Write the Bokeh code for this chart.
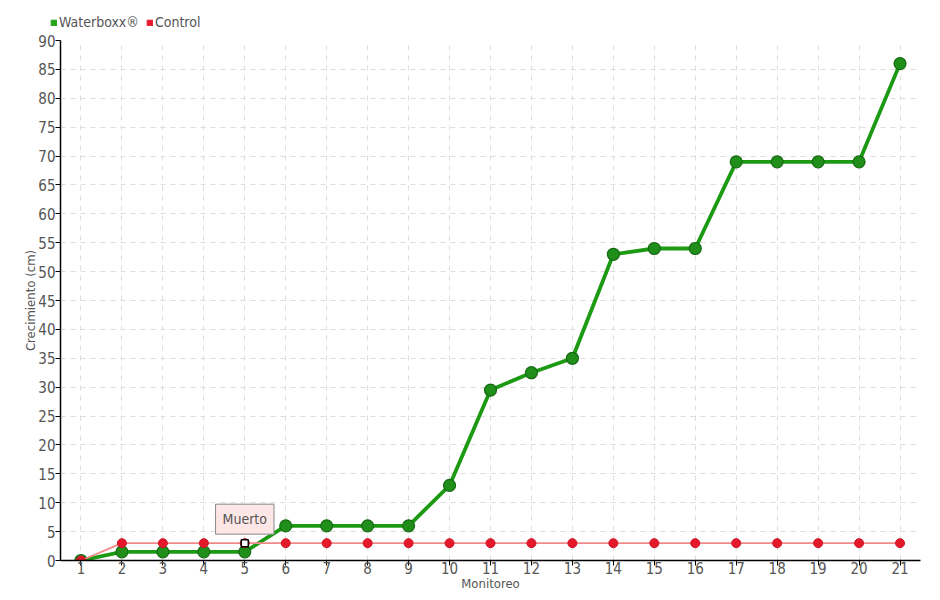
from bokeh.plotting import figure
from bokeh.layouts import column
from bokeh.models import (FixedTicker, Range1d, Legend, LegendItem, Label,
                          ColumnDataSource)
from bokeh.embed import file_html
from bokeh.resources import INLINE

monitoreo = list(range(1, 22))
waterboxx = [0, 1.5, 1.5, 1.5, 1.5, 6, 6, 6, 6, 13, 29.5, 32.5, 35, 53, 54, 54, 69, 69, 69, 69, 86]
control = [0, 3, 3, 3, 3, 3, 3, 3, 3, 3, 3, 3, 3, 3, 3, 3, 3, 3, 3, 3, 3]
y_ticks = list(range(0, 95, 5))
series_names = ["Waterboxx®", "Control"]
note_idx = 4  # Monitoreo 5 -> "Muerto"
note_text = "Muerto"

FONT = "DejaVu Sans Condensed"
GRAY = "#555555"
GREEN = "#1c9a14"
RED = "#e5192c"

# ---- legend strip above the chart ----
top = figure(width=940, height=32, output_backend="svg", toolbar_location=None,
             x_range=Range1d(0, 1), y_range=Range1d(0, 1),
             min_border_left=0, min_border_right=0, min_border_top=0,
             min_border_bottom=0)
top.frame_align = False
top.outline_line_color = None
top.axis.visible = False
top.grid.visible = False
nan = float("nan")
lw = top.quad(left=[nan], right=[nan], top=[nan], bottom=[nan],
              fill_color="#22a31a", line_color="#22a31a")
lc = top.quad(left=[nan], right=[nan], top=[nan], bottom=[nan],
              fill_color=RED, line_color=RED)
legend = Legend(items=[LegendItem(label=series_names[0], renderers=[lw]),
                       LegendItem(label=series_names[1], renderers=[lc])],
                orientation="horizontal", location=(50, 2),
                label_text_font=FONT, label_text_font_size="14px",
                label_text_color=GRAY, glyph_width=7, glyph_height=7,
                label_standoff=2, spacing=7, padding=0, margin=0,
                border_line_color=None, background_fill_alpha=0,
                label_height=14)
top.add_layout(legend, "center")

# ---- main chart ----
p = figure(width=940, height=568, output_backend="svg", toolbar_location=None,
           x_range=Range1d(0.5, 21.5), y_range=Range1d(0, 90),
           min_border_left=60, min_border_right=20, min_border_top=8,
           min_border_bottom=40)
p.frame_align = False
p.outline_line_color = None
p.background_fill_color = "white"

for ax in (p.xaxis[0], p.yaxis[0]):
    ax.axis_line_color = "black"
    ax.axis_line_width = 1.5
    ax.major_tick_line_color = "black"
    ax.major_tick_out = 5
    ax.major_tick_in = 0
    ax.minor_tick_line_color = None
    ax.major_label_text_font = FONT
    ax.major_label_text_font_size = "15px"
    ax.major_label_text_color = GRAY
    ax.axis_label_text_font = FONT
    ax.axis_label_text_font_size = "13px"
    ax.axis_label_text_color = GRAY
    ax.axis_label_text_font_style = "normal"

p.xaxis.ticker = FixedTicker(ticks=monitoreo)
p.yaxis.ticker = FixedTicker(ticks=y_ticks)
p.xaxis.axis_label = "Monitoreo"
p.yaxis.axis_label = "Crecimiento (cm)"
p.xaxis.axis_label_standoff = -1
p.yaxis.axis_label_standoff = -3
p.xaxis.major_label_standoff = -4
p.yaxis.major_label_standoff = 0

for g in (p.xgrid[0], p.ygrid[0]):
    g.grid_line_color = "#dddddd"
    g.grid_line_dash = "5 5"
    g.grid_line_width = 1

src_w = ColumnDataSource(dict(x=monitoreo, y=waterboxx))
src_c = ColumnDataSource(dict(x=monitoreo, y=control))

p.line("x", "y", source=src_w, line_color=GREEN, line_width=3.8)
p.scatter("x", "y", source=src_w, size=12, fill_color="#1f8f1a",
          line_color="#176a14", line_width=1.2)
p.line("x", "y", source=src_c, line_color="#f08a8a", line_width=1.8)
p.scatter("x", "y", source=src_c, size=9, fill_color=RED,
          line_color="#d01525", line_width=1)

# Annotation at Monitoreo 5 on Control
p.scatter([monitoreo[note_idx]], [control[note_idx]], marker="square", size=7,
          fill_color="white", line_color="black", line_width=1.5)
p.add_layout(Label(x=monitoreo[note_idx], y=control[note_idx], text=note_text,
                   text_align="center", text_baseline="bottom", y_offset=9,
                   text_font=FONT, text_font_size="14px", text_color=GRAY,
                   background_fill_color="#fde6e6", border_line_color="#888888",
                   padding=7))

layout = column(top, p, spacing=0)
open("out.html", "w").write(file_html(layout, INLINE))
